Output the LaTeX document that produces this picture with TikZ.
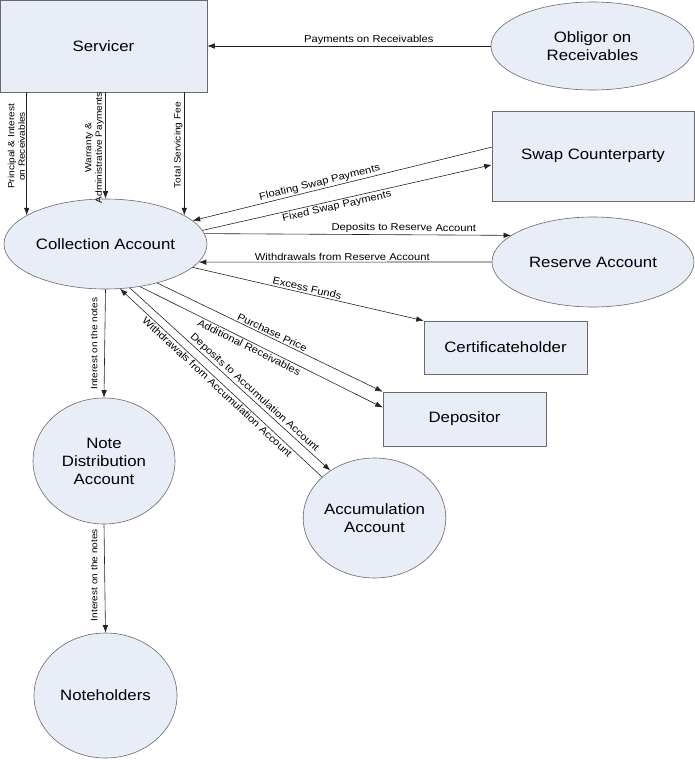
\documentclass[tikz,border=0pt]{standalone}
\usepackage{fontspec}
\setmainfont{Liberation Sans}[FakeStretch=1.12]
\usetikzlibrary{arrows.meta,shapes.geometric}

\definecolor{boxfill}{RGB}{232,237,247}
\definecolor{boxline}{RGB}{105,105,110}
\definecolor{flowline}{RGB}{35,35,35}

\tikzset{
  box/.style={rectangle, draw=boxline, fill=boxfill, line width=0.6pt, inner sep=0pt,
              align=center, font=\fontsize{15}{18}\selectfont},
  blob/.style={ellipse, draw=boxline, fill=boxfill, line width=0.6pt, inner sep=0pt,
               align=center, font=\fontsize{15}{18}\selectfont},
  flow/.style={font=\fontsize{10}{12}\selectfont, inner sep=1.5pt, text=black},
  vflow/.style={font=\fontsize{9}{10.5}\selectfont, inner sep=1.5pt, rotate=90,
                anchor=south, align=center, text=black}
}

\begin{document}
\begin{tikzpicture}[x=1pt,y=-1pt,>={Latex[length=7.5pt,width=5.5pt]},
                    every edge/.style={draw=flowline, line width=0.6pt}]
  \useasboundingbox (0,0) rectangle (695,760);

  \node[box, minimum width=207pt, minimum height=92pt]  (serv) at (103.5,46)  {Servicer};
  \node[blob, minimum width=203pt, minimum height=88pt] (obl)  at (592.5,46)  {Obligor on\\Receivables};
  \node[box, minimum width=202pt, minimum height=90pt]  (swap) at (593,156)   {Swap Counterparty};
  \node[blob, minimum width=203pt, minimum height=90pt] (coll) at (105.5,244) {Collection Account};
  \node[blob, minimum width=202pt, minimum height=90pt] (res)  at (593,262)   {Reserve Account};
  \node[box, minimum width=163pt, minimum height=53pt]  (cert) at (505.5,347.5) {Certificateholder};
  \node[box, minimum width=163pt, minimum height=54pt]  (depo) at (464.5,419) {Depositor};
  \node[blob, minimum width=142pt, minimum height=126pt] (note) at (104,461) {Note\\Distribution\\Account};
  \node[blob, minimum width=129pt, minimum height=120pt] (acc)  at (374.5,518) {Accumulation\\Account};
  \node[blob, minimum width=143pt, minimum height=125pt] (nh)   at (105.5,695.5) {Noteholders};

  % servicer side
  \path[->] (obl.west) edge node[flow, above, pos=0.43] {Payments on Receivables} (serv.east);
  \path[->] (serv.south -| coll.160) edge node[vflow, pos=0.44] {Principal \& Interest\\on Receivables} (coll.160);
  \path[->] (serv.south -| coll.north) edge node[vflow, pos=0.52] {Warranty \&\\Administrative Payments} (coll.north);
  \path[->] (serv.south -| coll.20) edge node[vflow, pos=0.43] {Total Servicing Fee} (coll.20);

  % swap and reserve
  \path[->] (swap.175) edge node[flow, sloped, above, pos=0.57] {Floating Swap Payments} (coll.15);
  \path[->] (coll.8)   edge node[flow, sloped, below, pos=0.46] {Fixed Swap Payments} (swap.185);
  \path[->] (coll.6)   edge node[flow, sloped, above, pos=0.65] {Deposits to Reserve Account} (res.162);
  \path[->] (res.west) edge node[flow, above, pos=0.51] {Withdrawals from Reserve Account} (coll.-11);

  % outgoing payments
  \path[->] (coll.-15) edge node[flow, sloped, above, pos=0.49] {Excess Funds} (cert.north west);
  \path[->] (coll.-37) edge node[flow, sloped, above, pos=0.5] {Purchase Price} (depo.north west);
  \path[->] (coll.-51) edge node[flow, sloped, below, pos=0.46] {Additional Receivables} (depo.172);
  \path[->] (coll.-61) edge node[flow, sloped, above, pos=0.6] {Deposits to Accumulation Account} (acc.133);
  \path[->] (acc.142)  edge node[flow, sloped, below, pos=0.5] {Withdrawals from Accumulation Account} (coll.-72);

  % notes
  \path[->] (coll.south) edge node[vflow, inner sep=7pt, pos=0.5] {Interest on the notes} (note.north);
  \path[->] (note.south) edge node[vflow, inner sep=7pt, pos=0.47] {Interest on the notes} (nh.north);
\end{tikzpicture}
\end{document}
